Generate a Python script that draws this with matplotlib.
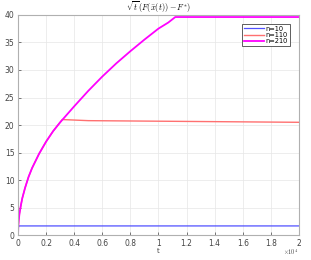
import numpy as np
import matplotlib
matplotlib.use('Agg')
import matplotlib.pyplot as plt

plt.rcParams['mathtext.fontset'] = 'cm'

# values
t_10 = [0, 10, 30, 60, 20000]
y_10 = [0, 0.9, 1.5, 1.7, 1.7]

t_110 = [0, 20, 50, 100, 200, 300, 500, 750, 1000, 1500, 2000, 2500, 3000, 3150,
         5000, 10000, 15000, 20000]
y_110 = [0, 1.7, 2.7, 3.9, 5.4, 6.7, 8.6, 10.6, 12.2, 14.8, 17.0, 18.9, 20.5, 21.0,
         20.8, 20.7, 20.6, 20.5]

t_210 = [0, 20, 50, 100, 200, 300, 500, 750, 1000, 1500, 2000, 2500, 3000, 4000,
         5000, 6000, 7000, 8000, 9000, 10000, 10700, 11200, 20000]
y_210 = [0, 1.7, 2.7, 3.9, 5.4, 6.7, 8.6, 10.6, 12.2, 14.8, 17.0, 18.9, 20.5, 23.4,
         26.2, 28.8, 31.2, 33.4, 35.5, 37.5, 38.6, 39.6, 39.6]

labels = ['n=10', 'n=110', 'n=210']
xticks = [0, 2000, 4000, 6000, 8000, 10000, 12000, 14000, 16000, 18000, 20000]
xtick_labels = ['0', '0.2', '0.4', '0.6', '0.8', '1', '1.2', '1.4', '1.6', '1.8', '2']

fig = plt.figure(figsize=(3.11, 2.6), dpi=100)
ax = fig.add_axes([0.058, 0.095, 0.903, 0.848])

ax.plot(t_10, y_10, '-', color='#5050ff', lw=0.9, label=labels[0])
ax.plot(t_110, y_110, '-', color='#ff7070', lw=1.0, label=labels[1])
ax.plot(t_210, y_210, '-', color='#ff00ff', lw=1.3, label=labels[2])

ax.set_xlim(0, 20000)
ax.set_ylim(0, 40)
ax.set_xticks(xticks)
ax.set_xticklabels(xtick_labels)
ax.set_yticks(np.arange(0, 41, 5))

ax.text(1.0, -0.078, r'$\times 10^{4}$', transform=ax.transAxes, ha='right', va='center',
        fontsize=4.5, color='#444444')

ax.grid(True, color='#e6e6e6', lw=0.5)
ax.set_axisbelow(True)
ax.tick_params(direction='in', length=2, width=0.5, labelsize=5.5, colors='#444444')
ax.tick_params(axis='x', pad=3)
ax.tick_params(axis='y', pad=2.5)
for s in ax.spines.values():
    s.set_color('#b0b0b0')
    s.set_linewidth(0.8)

ax.set_title(r'$\sqrt{t}\,(F(\bar{x}(t))-F^{*})$', fontsize=6, pad=2)
ax.set_xlabel('t', fontsize=5, color='#444444', labelpad=0)

leg = ax.legend(loc='upper right', fontsize=4.8, handlelength=3.0, borderpad=0.3,
                labelspacing=0.05, handletextpad=0.3, fancybox=False, framealpha=1,
                bbox_to_anchor=(0.98, 0.975))
leg.get_frame().set_edgecolor('#444444')
leg.get_frame().set_linewidth(0.6)

fig.savefig('out.png', dpi=100)
